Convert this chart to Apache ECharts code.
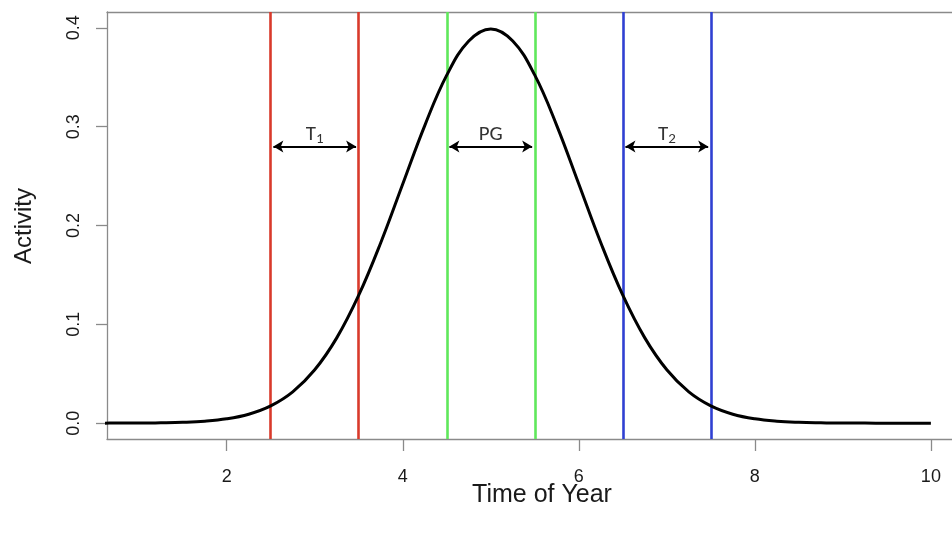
<!DOCTYPE html>
<html>
<head>
<meta charset="utf-8">
<script src="https://cdn.jsdelivr.net/npm/echarts@6/dist/echarts.min.js"></script>
<style>
html,body{margin:0;padding:0;background:#fff;}
#c{width:952px;height:533px;}
</style>
</head>
<body>
<div id="c"></div>
<script>
// Activity curve (x = time of year, y = activity)
const timeValues = [0.5,0.75,1,1.25,1.5,1.75,2,2.25,2.5,2.75,3,3.25,3.5,3.75,4,4.25,4.5,4.75,5,5.25,5.5,5.75,6,6.25,6.5,6.75,7,7.25,7.5,7.75,8,8.25,8.5,8.75,9,9.25,9.5,9.75,10];
const activityValues = [0.0000,0.0001,0.0001,0.0004,0.0009,0.0020,0.0044,0.0091,0.0175,0.0317,0.0540,0.0863,0.1295,0.1826,0.2420,0.3011,0.3521,0.3867,0.3989,0.3867,0.3521,0.3011,0.2420,0.1826,0.1295,0.0863,0.0540,0.0317,0.0175,0.0091,0.0044,0.0020,0.0009,0.0004,0.0001,0.0001,0.0000,0.0000,0.0000];

// Period boundaries
const periodNames = ['T1','PG','T2'];
const periodLabels = ['T{s|1}','PG','T{s|2}'];
const periodStart = [2.5,4.5,6.5];
const periodEnd = [3.5,5.5,7.5];
const periodColors = ['#d93a2b','#5fe85b','#3040d2'];
const arrowLevel = 0.28;
const labelLevel = 0.292;

const xTicks = [2,4,6,8,10];
const yTicks = [0.0,0.1,0.2,0.3,0.4];
const xTitle = 'Time of Year';
const yTitle = 'Activity';

const chart = echarts.init(document.getElementById('c'), null, {renderer:'canvas'});

const curveData = timeValues.map((t,i)=>[t, activityValues[i]]);

const vLineSeries = periodNames.map((n,i)=>({
  type:'line', name:n+' bounds', data:[], silent:true,
  markLine:{
    silent:true, symbol:['none','none'], label:{show:false},
    lineStyle:{color:periodColors[i], width:2.6, type:'solid'},
    data:[{xAxis:periodStart[i]},{xAxis:periodEnd[i]}]
  }
}));

const arrowSeries = {
  type:'line', name:'arrows', data:[], silent:true,
  markLine:{
    silent:true, symbol:['arrow','arrow'], symbolSize:[9,10],
    label:{show:false},
    lineStyle:{color:'#000', width:2, type:'solid'},
    data: periodNames.map((n,i)=>[
      {coord:[periodStart[i]+0.03, arrowLevel]},
      {coord:[periodEnd[i]-0.03, arrowLevel]}
    ])
  }
};

const labelSeries = {
  type:'scatter', name:'labels', symbolSize:0, silent:true,
  data: periodNames.map((n,i)=>({value:[(periodStart[i]+periodEnd[i])/2, labelLevel], label:{formatter:periodLabels[i]}})),
  label:{
    show:true, position:'inside', color:'#000',
    fontFamily:'Carlito, "Open Sans", "Noto Sans", sans-serif', fontSize:21,
    rich:{s:{fontSize:15, verticalAlign:'bottom', padding:[10,0,0,0], fontFamily:'Carlito, "Open Sans", sans-serif'}}
  }
};

const axisGray = '#8a8a8a';
const txt = '#1a1a1a';
const fam = 'Liberation Sans, Arial, sans-serif';

chart.setOption({
  animation:false,
  backgroundColor:'#fff',
  grid:{left:107, right:0, top:12, bottom:94, show:false},
  graphic:[
    {type:'text', x:542, y:495, style:{text:xTitle, fontSize:25, fill:txt, fontFamily:fam, align:'center', verticalAlign:'middle'}, silent:true},
    {type:'text', x:24, y:226, rotation:Math.PI/2, style:{text:yTitle, fontSize:24, fill:txt, fontFamily:fam, align:'center', verticalAlign:'middle'}, silent:true}
  ],
  xAxis:[{
    type:'value', min:0.64, max:10.24, position:'bottom',
    axisLine:{show:true, onZero:false, lineStyle:{color:axisGray, width:1.3}},
    axisTick:{show:true, length:12, inside:false, lineStyle:{color:axisGray, width:1.3}, customValues:xTicks},
    axisLabel:{fontSize:18, color:txt, margin:29, fontFamily:fam, customValues:xTicks},
    splitLine:{show:false}
  },{
    type:'value', min:0.64, max:10.24, position:'top',
    axisLine:{show:true, onZero:false, lineStyle:{color:axisGray, width:1.3}},
    axisTick:{show:false}, axisLabel:{show:false}, splitLine:{show:false}
  }],
  yAxis:{
    type:'value', min:-0.016, max:0.416,
    axisLine:{show:true, onZero:false, lineStyle:{color:axisGray, width:1.3}},
    axisTick:{show:true, length:11, lineStyle:{color:axisGray, width:1.3}, customValues:yTicks},
    axisLabel:{fontSize:18, color:txt, margin:24, rotate:90, fontFamily:fam, customValues:yTicks, formatter:v=>v.toFixed(1)},
    splitLine:{show:false}
  },
  series:[
    ...vLineSeries,
    {
      type:'line', name:'Activity', data:curveData, smooth:0.4, showSymbol:false, clip:true,
      lineStyle:{color:'#000', width:3}, z:5
    },
    arrowSeries,
    labelSeries
  ]
});
</script>
</body>
</html>
